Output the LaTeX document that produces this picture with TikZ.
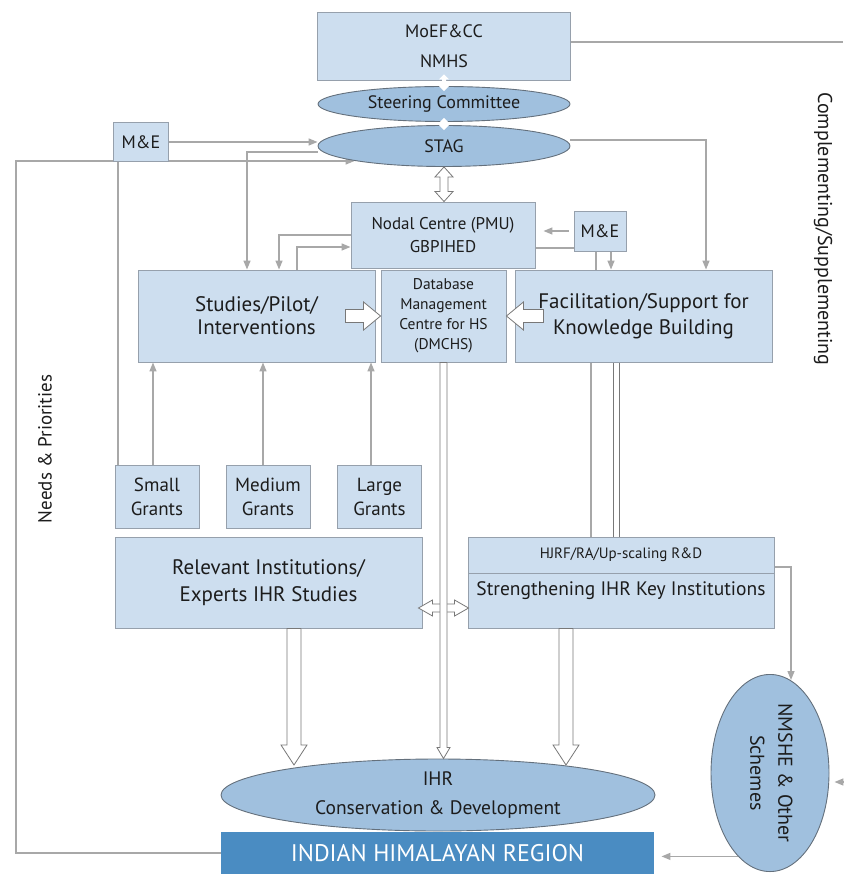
\documentclass[tikz,border=0pt]{standalone}
\usepackage{fontspec}
\setmainfont{PT Sans}
\usetikzlibrary{arrows.meta,calc,shapes.geometric,backgrounds}
\definecolor{BoxClr}{RGB}{205,222,239}
\definecolor{BoxLineClr}{RGB}{150,160,172}
\definecolor{EllClr}{RGB}{160,192,222}
\definecolor{EllLineClr}{RGB}{100,112,124}
\definecolor{RegionClr}{RGB}{74,140,194}
\definecolor{LineClr}{RGB}{168,168,168}
\definecolor{HollowClr}{RGB}{120,120,120}
\definecolor{TxtClr}{RGB}{28,28,28}
\newcommand{\fsz}[2]{\fontsize{#1}{#2}\selectfont}

\tikzset{
  box/.style={draw=BoxLineClr, fill=BoxClr, line width=0.9pt, text=TxtClr, align=center, inner sep=0pt},
  oval/.style={ellipse, draw=EllLineClr, fill=EllClr, line width=0.9pt, text=TxtClr, align=center, inner sep=0pt},
  link/.style={draw=LineClr, line width=1.4pt},
  arr/.style={link, -{Triangle[length=9pt,width=7pt]}},
  bar/.style={draw=HollowClr, line width=0.8pt, double=white, double distance=5pt},
  hollow/.style={draw=HollowClr, fill=white, line width=0.8pt, line join=miter},
  fat down/.style n args={3}{hollow, to path={let \p1=(\tikztostart), \p2=(\tikztotarget) in
    (\x1-#1,\y1) -- (\x1-#1,\y2+#3) -- (\x1-#2,\y2+#3) -- (\x1,\y2) -- (\x1+#2,\y2+#3) -- (\x1+#1,\y2+#3) -- (\x1+#1,\y1) -- cycle}},
  fat right/.style n args={3}{hollow, to path={let \p1=(\tikztostart), \p2=(\tikztotarget) in
    (\x1,\y1-#1) -- (\x2-#3,\y1-#1) -- (\x2-#3,\y1-#2) -- (\x2,\y1) -- (\x2-#3,\y1+#2) -- (\x2-#3,\y1+#1) -- (\x1,\y1+#1) -- cycle}},
  fat left/.style n args={3}{hollow, to path={let \p1=(\tikztostart), \p2=(\tikztotarget) in
    (\x1,\y1-#1) -- (\x2+#3,\y1-#1) -- (\x2+#3,\y1-#2) -- (\x2,\y1) -- (\x2+#3,\y1+#2) -- (\x2+#3,\y1+#1) -- (\x1,\y1+#1) -- cycle}},
  fat vv/.style n args={3}{hollow, to path={let \p1=(\tikztostart), \p2=(\tikztotarget) in
    (\x1,\y1) -- (\x1+#2,\y1-#3) -- (\x1+#1,\y1-#3) -- (\x1+#1,\y2+#3) -- (\x1+#2,\y2+#3) -- (\x1,\y2)
    -- (\x1-#2,\y2+#3) -- (\x1-#1,\y2+#3) -- (\x1-#1,\y1-#3) -- (\x1-#2,\y1-#3) -- cycle}},
  fat hh/.style n args={3}{hollow, to path={let \p1=(\tikztostart), \p2=(\tikztotarget) in
    (\x1,\y1) -- (\x1+#3,\y1+#2) -- (\x1+#3,\y1+#1) -- (\x2-#3,\y1+#1) -- (\x2-#3,\y1+#2) -- (\x2,\y1)
    -- (\x2-#3,\y1-#2) -- (\x2-#3,\y1-#1) -- (\x1+#3,\y1-#1) -- (\x1+#3,\y1-#2) -- cycle}},
}

\begin{document}
\begin{tikzpicture}[x=1pt,y=-1pt]
\useasboundingbox (0,0) rectangle (843,874);

\node[box, minimum width=253pt, minimum height=68pt, font=\fsz{18}{30}] (moef) at (444,46) {MoEF\&CC\\NMHS};
\node[oval, minimum width=252pt, minimum height=35pt, font=\fsz{18}{22}] (sc) at (444,104) {Steering Committee};
\node[oval, minimum width=252pt, minimum height=41pt, font=\fsz{18}{22}] (stag) at (444,146) {STAG};
\node[box, minimum width=55pt, minimum height=39pt, font=\fsz{18}{22}] (meL) at (141,142) {M\&E};
\node[box, minimum width=184pt, minimum height=66pt, font=\fsz{17}{23}] (nodal) at (443,235) {Nodal Centre (PMU)\\GBPIHED};
\node[box, minimum width=52pt, minimum height=40pt, font=\fsz{18}{22}] (meR) at (600,231) {M\&E};

\node[box, minimum width=237pt, minimum height=92pt, font=\fsz{21}{23}] (stud) at (256.5,316) {Studies/Pilot/\\Interventions};
\node[box, minimum width=125pt, minimum height=92pt, font=\fsz{15.5}{20}] (db) at (443.5,316) {Database\\Management\\Centre for HS\\(DMCHS)};
\node[box, minimum width=257pt, minimum height=92pt, font=\fsz{21}{26}] (fac) at (643.5,316) {Facilitation/Support for\\Knowledge Building};

\node[box, minimum width=84pt, minimum height=63pt, font=\fsz{19}{24}] (small) at (157,496.5) {Small\\Grants};
\node[box, minimum width=84pt, minimum height=63pt, font=\fsz{19}{24}] (medium) at (268,496.5) {Medium\\Grants};
\node[box, minimum width=84pt, minimum height=63pt, font=\fsz{19}{24}] (large) at (379.5,496.5) {Large\\Grants};

\node[box, minimum width=307pt, minimum height=91pt, font=\fsz{21}{27}] (rel) at (268.5,582.5) {Relevant Institutions/\\Experts IHR Studies};
\node[box, minimum width=306pt, minimum height=36pt, font=\fsz{15}{18}] (hjrf) at (621,555) {HJRF/RA/Up-scaling R\&D};
\node[box, minimum width=306pt, minimum height=55pt,
  label={[font=\fsz{19.5}{22}, text=TxtClr, yshift=9.5pt]center:Strengthening IHR Key Institutions}] (streng) at (621,600.5) {};

\node[oval, minimum width=434pt, minimum height=72pt, font=\fsz{19.5}{29}] (ihr) at (438,795) {IHR\\Conservation \& Development};
\node[box, draw=none, fill=RegionClr, text=white, minimum width=433pt, minimum height=42pt, font=\fsz{24}{26}] (region) at (437.5,853) {INDIAN HIMALAYAN REGION};
\node[oval, minimum width=118pt, minimum height=194pt, font=\fsz{20}{28}] (nmshe) at (770,773)
  {\rotatebox{-90}{\begin{tabular}{@{}c@{}}NMSHE \& Other\\Schemes\end{tabular}}};

\node[rotate=90, text=TxtClr, font=\fsz{19}{22}] (needs) at (45,449) {Needs \& Priorities};
\node[rotate=-90, text=TxtClr, font=\fsz{20}{22}] (compl) at (823,229) {Complementing/Supplementing};

\coordinate (rtop) at (843,42);
\coordinate (rbot) at (843,782);
\coordinate (np) at (16,161);
\coordinate (mv) at (118,161);
\coordinate (nt) at (791,680);
\coordinate (m1) at ([xshift=-4pt]meR.south);
\coordinate (m2) at ([xshift=11pt]meR.south);
\coordinate (f1) at ([xshift=-52.5pt]fac.south);
\coordinate (f2) at ([xshift=-27pt]fac.south);
\coordinate (g1) at ([xshift=-4pt]small.north);
\coordinate (g2) at ([xshift=-5pt]medium.north);
\coordinate (g3) at ([xshift=-8.5pt]large.north);
\coordinate (sa) at ([xshift=-30pt]stud.east);
\coordinate (sb) at (db.west |- stud.east);
\coordinate (fa) at ([xshift=29pt]fac.west);
\coordinate (fb) at (db.east |- fac.west);
\coordinate (ra) at ([xshift=25.5pt]rel.south);
\coordinate (rb) at (294,765);
\coordinate (ta) at ([xshift=-55pt]streng.south);
\coordinate (tb) at (566,765);
\coordinate (da) at (db.south);
\coordinate (dc) at (db.south |- ihr.north);
\coordinate (d1) at ([xshift=-4pt,yshift=-25.5pt]rel.east);
\coordinate (d2) at ([xshift=1pt]streng.west |- d1);
\coordinate (sg1) at (stag.south);
\coordinate (sg2) at (nodal.north);
\coordinate (w1) at ([yshift=6pt]moef.south);
\coordinate (w2) at ([yshift=-5pt]sc.north);
\coordinate (w3) at ([yshift=4pt]sc.south);
\coordinate (w4) at ([yshift=-5pt]stag.north);

\begin{scope}[on background layer]
\draw[link] (moef.east |- rtop) -- (rtop);
\draw[arr, shorten >=5pt] (rbot) -- (rbot -| nmshe.east);
\draw[arr] (meL.east) -- (meL.east -| stag.west);
\draw[arr] (region.west) -| (np) -- (np -| stag.south west);
\draw[link] (mv) -- (mv |- small.north);
\draw[arr] ([yshift=6pt]stag.east) -| ([xshift=62.5pt]fac.north);
\draw[arr] ([yshift=-6pt]stag.west) -| ([xshift=-9.5pt]stud.north);
\draw[arr] (nodal.west) -| ([xshift=22.5pt]stud.north);
\draw[arr] ([xshift=40.5pt]stud.north) |- ([yshift=-12pt]nodal.west);
\draw[arr, shorten <=5pt, shorten >=8pt] (meR.west) -- (meR.west -| nodal.east);
\draw[link] ([yshift=-13pt]nodal.east) -- ([yshift=-13pt]nodal.east -| meR.west);
\draw[link] (m1) -- (m1 |- fac.north);
\draw[arr] (m2) -- (m2 |- fac.north);
\draw[link] (f1) -- (f1 |- hjrf.north);
\draw[bar] (f2) -- (f2 |- hjrf.north);
\draw[arr] (g1) -- (g1 |- stud.south);
\draw[arr] (g2) -- (g2 |- stud.south);
\draw[arr] (g3) -- (g3 |- stud.south);
\draw[arr] ([yshift=-12pt]hjrf.east) -| (nt);
\draw[arr, shorten >=7pt] (nmshe.249) -- (nmshe.249 -| region.east);
\end{scope}

\draw[fat right={6.5pt}{14pt}{17pt}] (sa) to (sb);
\draw[fat left={6.5pt}{14pt}{17pt}] (fa) to (fb);
\draw[fat down={7pt}{13pt}{20pt}] (ra) to (rb);
\draw[fat down={7pt}{13pt}{20pt}] (ta) to (tb);
\draw[fat hh={4pt}{8pt}{14pt}] (d1) to (d2);
\draw[fat down={3.5pt}{6.5pt}{11pt}] (da) to (dc);
\draw[fat vv={4pt}{9pt}{10pt}] (sg1) to (sg2);
\draw[fat vv={2pt}{5pt}{5pt}, draw=none] (w1) to (w2);
\draw[fat vv={2pt}{5pt}{5pt}, draw=none] (w3) to (w4);

\end{tikzpicture}
\end{document}
